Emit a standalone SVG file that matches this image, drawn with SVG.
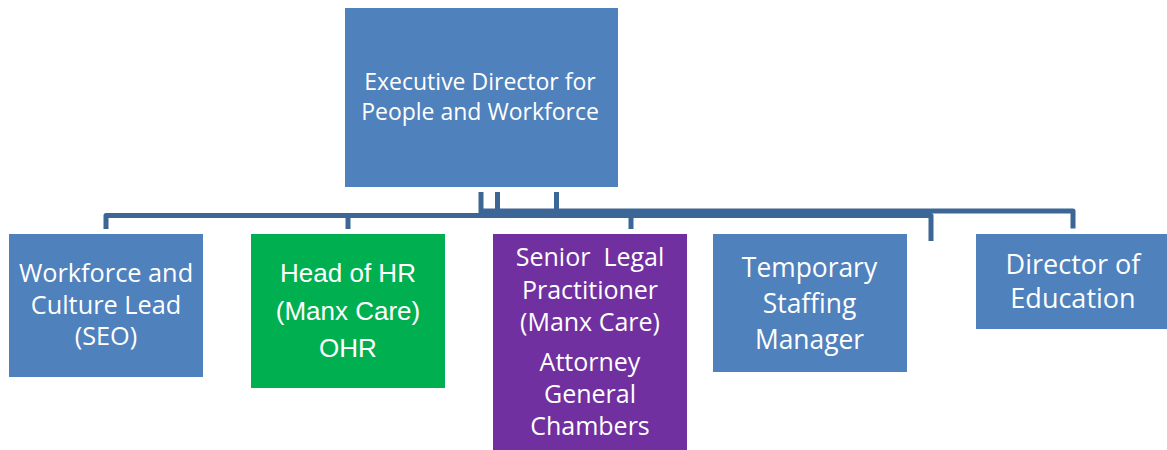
<svg xmlns="http://www.w3.org/2000/svg" width="1167" height="450" viewBox="0 0 1167 450">
  <style>
    .box-blue { fill: #4F81BD; }
    .box-green { fill: #00B050; }
    .box-purple { fill: #7030A0; }
    .lbl { fill: #FFFFFF; font-family: "Open Sans", "Liberation Sans", sans-serif; text-anchor: middle; }
    .lbl-arial { fill: #FFFFFF; font-family: "Liberation Sans", Arial, sans-serif; text-anchor: middle; }
    .conn { fill: none; stroke: #3C6695; stroke-width: 5; stroke-linejoin: round; }
  </style>

  <!-- reporting lines -->
  <g id="connectors">
    <path class="conn" d="M106,229 V215.5 H931 V241"/>
    <path class="conn" d="M481,211 H1073 V228.5"/>
    <path class="conn" d="M481,192 V216"/>
    <path class="conn" d="M497.5,192 V216"/>
    <path class="conn" d="M556.5,192 V216"/>
    <path class="conn" d="M348,215 V229"/>
    <path class="conn" d="M631,215 V229"/>
  </g>

  <g id="executive-director">
    <rect class="box-blue" x="345" y="8" width="273" height="179"/>
    <text class="lbl" font-size="23" x="480" y="90">Executive Director for</text>
    <text class="lbl" font-size="23" x="480" y="119.5">People and Workforce</text>
  </g>

  <g id="workforce-culture-lead">
    <rect class="box-blue" x="9" y="234" width="194" height="143"/>
    <text class="lbl" font-size="25.3" x="106" y="281.5">Workforce and</text>
    <text class="lbl" font-size="25.3" x="106" y="313.5">Culture Lead</text>
    <text class="lbl" font-size="25.3" x="106" y="345">(SEO)</text>
  </g>

  <g id="head-of-hr">
    <rect class="box-green" x="251" y="234" width="194" height="154"/>
    <text class="lbl-arial" font-size="26" x="348" y="282">Head of HR</text>
    <text class="lbl-arial" font-size="26" x="348" y="320">(Manx Care)</text>
    <text class="lbl-arial" font-size="26" x="348" y="357">OHR</text>
  </g>

  <g id="senior-legal-practitioner">
    <rect class="box-purple" x="493" y="234" width="194" height="216"/>
    <text class="lbl" font-size="25" x="590" y="266" style="white-space:pre">Senior  Legal</text>
    <text class="lbl" font-size="25" x="590" y="298.5">Practitioner</text>
    <text class="lbl" font-size="25" x="590" y="330.5">(Manx Care)</text>
    <text class="lbl" font-size="25" x="590" y="370.5">Attorney</text>
    <text class="lbl" font-size="25" x="590" y="403">General</text>
    <text class="lbl" font-size="25" x="590" y="435">Chambers</text>
  </g>

  <g id="temporary-staffing-manager">
    <rect class="box-blue" x="713" y="234" width="194" height="138"/>
    <text class="lbl" font-size="26.4" x="809.5" y="277">Temporary</text>
    <text class="lbl" font-size="26.4" x="809.5" y="313">Staffing</text>
    <text class="lbl" font-size="26.4" x="809.5" y="348.5">Manager</text>
  </g>

  <g id="director-of-education">
    <rect class="box-blue" x="976" y="234" width="191" height="95"/>
    <text class="lbl" font-size="27" x="1073" y="273.5">Director of</text>
    <text class="lbl" font-size="27" x="1073" y="307.5">Education</text>
  </g>
</svg>
